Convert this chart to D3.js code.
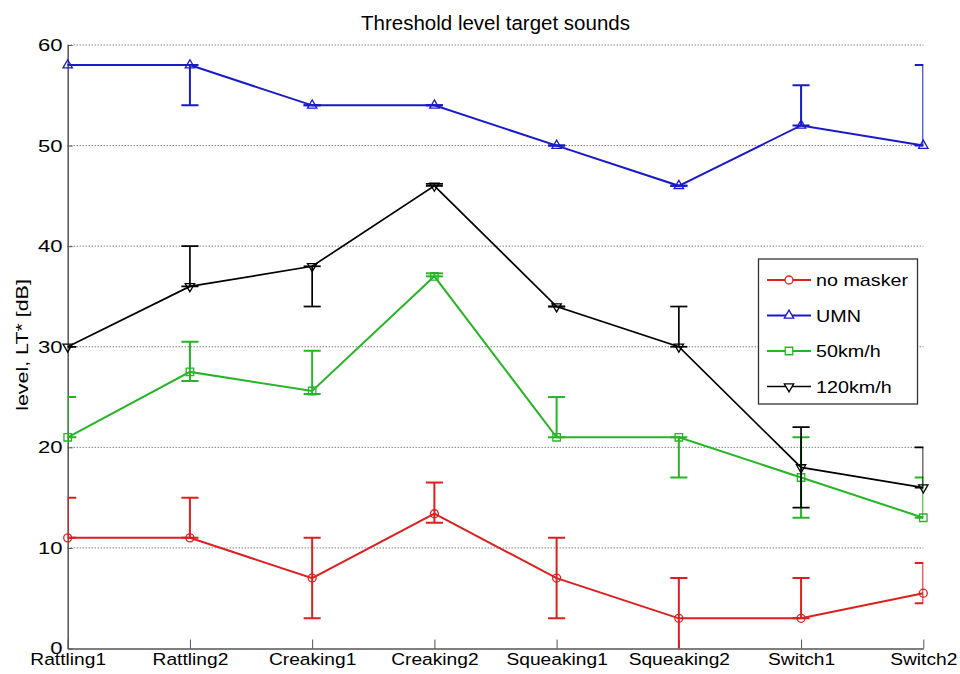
<!DOCTYPE html>
<meta charset="utf-8">
<title>Threshold level target sounds</title>
<style>
body { margin: 0; background: #fff; }
svg { display: block; font-family: "Liberation Sans", Arial, sans-serif; }
</style>
<body>
<div id="chart"></div>
<script src="https://d3js.org/d3.v7.min.js"></script>
<script>

// target sounds on the x axis
var categories = ["Rattling1", "Rattling2", "Creaking1", "Creaking2", "Squeaking1", "Squeaking2", "Switch1", "Switch2"];
var yTicks = [0, 10, 20, 30, 40, 50, 60];

// threshold levels + error bar ends
var noMasker     = [11, 11, 7, 13.4, 7, 3, 3, 5.5];
var noMaskerLow  = [11, 11, 3, 12.5, 3, -1, 3, 4.5];
var noMaskerHigh = [15, 15, 11, 16.5, 11, 7, 7, 8.5];

var umn     = [58, 58, 54, 54, 50, 46, 52, 50];
var umnLow  = [58, 54, 54, 54, 50, 46, 52, 50];
var umnHigh = [58, 58, 54, 54, 50, 46, 56, 58];

var kmh50     = [21, 27.5, 25.6, 37, 21, 21, 17, 13];
var kmh50Low  = [21, 26.6, 25.3, 37, 21, 17, 13, 13];
var kmh50High = [25, 30.5, 29.6, 37.3, 25, 21, 21, 17];

var kmh120     = [30, 36, 38, 46, 34, 30, 18, 16];
var kmh120Low  = [30, 36, 34, 46, 34, 30, 14, 16];
var kmh120High = [30, 40, 38, 46.2, 34, 34, 22, 20];

var seriesNames   = ["no masker", "UMN", "50km/h", "120km/h"];
var seriesColors  = ["#dc1f1f", "#1a1ac8", "#27b427", "#000000"];
var seriesMarkers = ["circle", "triangle", "square", "triangleDown"];

var series = [
  {name: seriesNames[0], values: noMasker, low: noMaskerLow, high: noMaskerHigh},
  {name: seriesNames[1], values: umn, low: umnLow, high: umnHigh},
  {name: seriesNames[2], values: kmh50, low: kmh50Low, high: kmh50High},
  {name: seriesNames[3], values: kmh120, low: kmh120Low, high: kmh120High}
];
series.forEach(function(s, i) {
  s.color = seriesColors[i];
  s.marker = seriesMarkers[i];
  s.points = categories.map(function(c, j) {
    return {cat: c, value: s.values[j], low: s.low[j], high: s.high[j]};
  });
});

var W = 960, H = 674;
// plot box (window.top is taken, so keep these in an object)
var box = {left: 67.7, right: 923.3, top: 45, bottom: 648.5};

var svg = d3.select("#chart").append("svg")
  .attr("width", W)
  .attr("height", H);
svg.append("rect").attr("width", W).attr("height", H).attr("fill", "#fff");

var x = d3.scalePoint().domain(categories).range([box.left, box.right]);
var y = d3.scaleLinear().domain([0, 60]).range([box.bottom, box.top]);

// cap half width like matlab's errorbar: 1% of x range
var tee = (x(categories[categories.length - 1]) - x(categories[0])) / 100;

svg.append("clipPath").attr("id", "plotclip")
  .append("rect")
    .attr("x", box.left).attr("y", box.top)
    .attr("width", box.right - box.left).attr("height", box.bottom - box.top);

// dotted grid
svg.append("g")
  .selectAll("line")
  .data(yTicks.filter(function(d) { return d > 0; }))
  .enter().append("line")
    .attr("x1", box.left).attr("x2", box.right)
    .attr("y1", function(d) { return y(d); })
    .attr("y2", function(d) { return y(d); })
    .attr("stroke", "#444")
    .attr("stroke-width", 1)
    .attr("stroke-dasharray", "1,2");

// axes
var xAxis = svg.append("g")
  .attr("transform", "translate(0," + box.bottom + ")")
  .call(d3.axisBottom(x).tickSizeInner(-9).tickSizeOuter(0));
xAxis.select(".domain").attr("stroke", "#555").attr("stroke-width", 1.5);
xAxis.selectAll(".tick line").attr("stroke", "#555");
xAxis.selectAll("text")
  .attr("y", 16.5).attr("dy", null)
  .attr("transform", "scale(1.13,1)")
  .attr("fill", "#000")
  .style("font-size", "17px");

var yAxis = svg.append("g")
  .attr("transform", "translate(" + box.left + ",0)")
  .call(d3.axisLeft(y).tickValues(yTicks).tickSizeInner(-5).tickSizeOuter(0));
yAxis.select(".domain").attr("stroke", "#555").attr("stroke-width", 1.5);
yAxis.selectAll(".tick line").attr("stroke", "#555");
yAxis.selectAll("text")
  .attr("x", -4)
  .attr("transform", "scale(1.3,1)")
  .attr("fill", "#000")
  .style("font-size", "17px");

// markers
function markerPath(type) {
  if (type == "circle") return d3.symbol().type(d3.symbolCircle).size(50)();
  if (type == "square") return d3.symbol().type(d3.symbolSquare).size(56)();
  return d3.symbol().type(d3.symbolTriangle).size(38)();
}
function markerTransform(type, px, py) {
  return "translate(" + px + "," + py + ")" + (type == "triangleDown" ? " rotate(180)" : "");
}

var line = d3.line()
  .x(function(d) { return x(d.cat); })
  .y(function(d) { return y(d.value); });

var groups = svg.selectAll("g.series")
  .data(series)
  .enter().append("g")
    .attr("class", "series");

groups.append("path")
  .attr("clip-path", "url(#plotclip)")
  .attr("d", function(d) { return line(d.points); })
  .attr("fill", "none")
  .attr("stroke", function(d) { return d.color; })
  .attr("stroke-width", function(d) { return d.marker == "triangleDown" ? 1.7 : 2; });

// error bars
groups.each(function(s) {
  var g = d3.select(this).append("g")
    .attr("clip-path", "url(#plotclip)")
    .attr("stroke", s.color)
    .attr("stroke-width", s.marker == "triangleDown" ? 1.7 : 2);
  var eb = g.selectAll("g").data(s.points).enter().append("g");
  eb.append("line")
    .attr("x1", function(d) { return x(d.cat); })
    .attr("x2", function(d) { return x(d.cat); })
    .attr("y1", function(d) { return y(d.low); })
    .attr("y2", function(d) { return y(d.high); });
  eb.append("line")
    .attr("x1", function(d) { return x(d.cat) - tee; })
    .attr("x2", function(d) { return x(d.cat) + tee; })
    .attr("y1", function(d) { return y(d.low); })
    .attr("y2", function(d) { return y(d.low); });
  eb.append("line")
    .attr("x1", function(d) { return x(d.cat) - tee; })
    .attr("x2", function(d) { return x(d.cat) + tee; })
    .attr("y1", function(d) { return y(d.high); })
    .attr("y2", function(d) { return y(d.high); });
});

groups.each(function(s) {
  d3.select(this).selectAll("path.marker")
    .data(s.points)
    .enter().append("path")
      .attr("class", "marker")
      .attr("d", markerPath(s.marker))
      .attr("transform", function(d) { return markerTransform(s.marker, x(d.cat), y(d.value)); })
      .attr("fill", "none")
      .attr("stroke", s.color)
      .attr("stroke-width", 1.3);
});

// title
svg.append("text")
  .attr("x", (box.left + box.right) / 2)
  .attr("y", 30)
  .attr("text-anchor", "middle")
  .style("font-size", "20.5px")
  .text("Threshold level target sounds");

// y label
svg.append("g")
  .attr("transform", "translate(28,345) rotate(-90)")
  .append("text")
    .attr("text-anchor", "middle")
    .attr("transform", "scale(1.26,1)")
    .style("font-size", "17px")
    .text("level, LT* [dB]");

// legend
var legend = svg.append("g");
legend.append("rect")
  .attr("x", 758.5).attr("y", 259)
  .attr("width", 159).attr("height", 145)
  .attr("fill", "#fff")
  .attr("stroke", "#333")
  .attr("stroke-width", 1.3);

var rows = legend.selectAll("g.row")
  .data(series)
  .enter().append("g")
    .attr("class", "row")
    .attr("transform", function(d, i) { return "translate(0," + (280 + i * 35.5) + ")"; });
rows.append("line")
  .attr("x1", 767).attr("x2", 811)
  .attr("stroke", function(d) { return d.color; })
  .attr("stroke-width", function(d) { return d.marker == "triangleDown" ? 1.7 : 2; });
rows.append("path")
  .attr("d", function(d) { return markerPath(d.marker); })
  .attr("transform", function(d) { return markerTransform(d.marker, 789, 0); })
  .attr("fill", "#fff")
  .attr("stroke", function(d) { return d.color; })
  .attr("stroke-width", 1.3);
rows.append("g")
  .attr("transform", "translate(816,0)")
  .append("text")
    .attr("transform", "scale(1.16,1)")
    .attr("dy", "0.36em")
    .style("font-size", "17px")
    .text(function(d) { return d.name; });

</script>
</body>
